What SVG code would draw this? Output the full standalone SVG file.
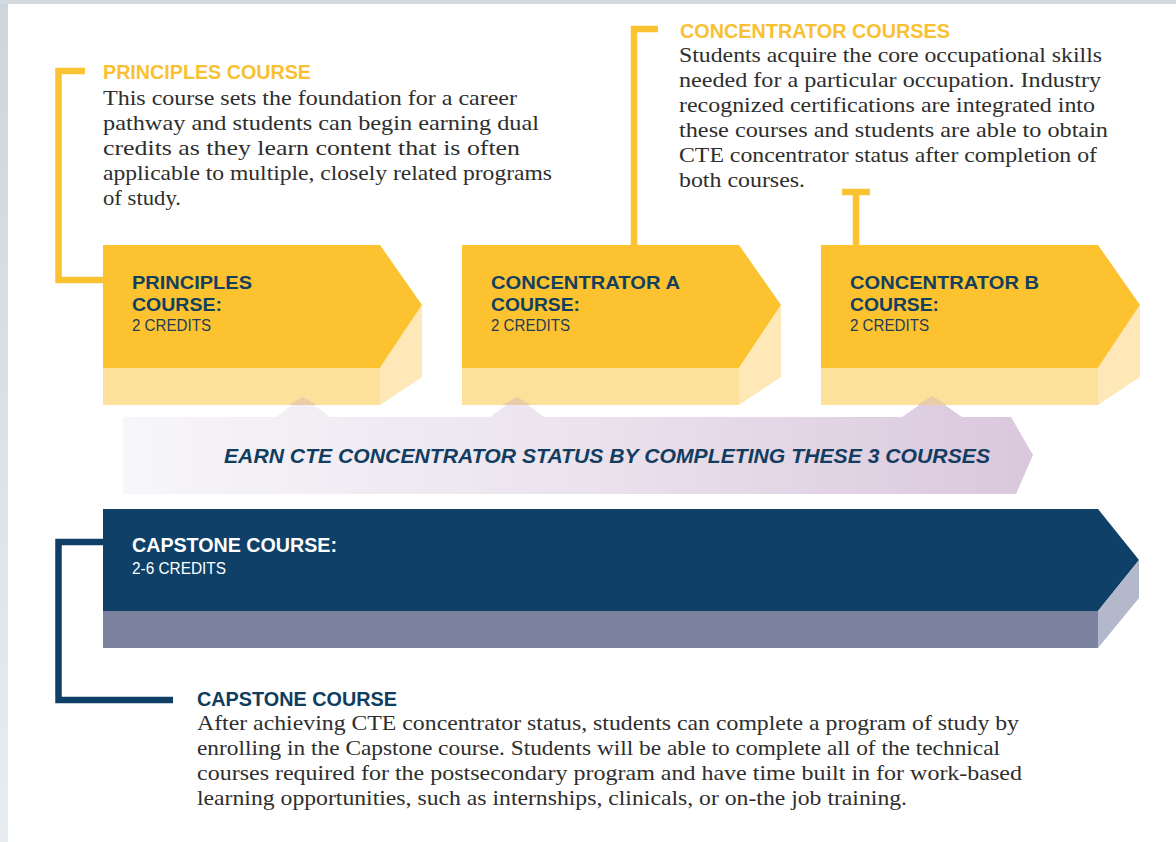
<svg xmlns="http://www.w3.org/2000/svg" width="1176" height="842" viewBox="0 0 1176 842">
  <defs>
    <linearGradient id="leftStrip" x1="0" y1="0" x2="0" y2="1">
      <stop offset="0" stop-color="#cdd6dd"/>
      <stop offset="1" stop-color="#e9edf0"/>
    </linearGradient>
    <linearGradient id="bandGrad" gradientUnits="userSpaceOnUse" x1="123" y1="0" x2="1033" y2="0">
      <stop offset="0" stop-color="#f7f6f9"/>
      <stop offset="0.5" stop-color="#ebe3ee"/>
      <stop offset="1" stop-color="#dac7dd"/>
    </linearGradient>
    <style>
      .yTop { fill: #fcc230; }
      .yFront { fill: #fde19b; }
      .ySide { fill: #fee8b7; }
      .nTop { fill: #0e4068; }
      .nFront { fill: #7b839f; }
      .nSide { fill: #b4b8cb; }
      .lbl { font-family: "Liberation Sans", Arial, sans-serif; font-weight: bold; font-size: 19px; fill: #133f5f; }
      .lblW { font-family: "Liberation Sans", Arial, sans-serif; font-weight: bold; font-size: 20px; fill: #ffffff; }
      .cred { font-family: "Liberation Sans", Arial, sans-serif; font-size: 16px; fill: #1e3d58; }
      .credW { font-family: "Liberation Sans", Arial, sans-serif; font-size: 16px; fill: #ffffff; }
      .headY { font-family: "Liberation Sans", Arial, sans-serif; font-weight: bold; font-size: 19.5px; fill: #f9c132; }
      .headN { font-family: "Liberation Sans", Arial, sans-serif; font-weight: bold; font-size: 19.5px; fill: #0f3d5e; }
      .body { font-family: "Liberation Serif", "Times New Roman", serif; font-size: 21px; fill: #2e2e2e; }
      .bandTxt { font-family: "Liberation Sans", Arial, sans-serif; font-weight: bold; font-style: italic; font-size: 21px; fill: #123d60; }
      .brY { fill: none; stroke: #fbc231; stroke-width: 6.5; stroke-linejoin: miter; stroke-linecap: butt; }
      .brN { fill: none; stroke: #0f3f66; stroke-width: 6.5; stroke-linejoin: miter; stroke-linecap: butt; }
    </style>
  </defs>

  <!-- page background -->
  <rect x="0" y="0" width="1176" height="842" fill="#ffffff"/>
  <rect x="0" y="0" width="8" height="842" fill="url(#leftStrip)"/>
  <rect x="0" y="0" width="1176" height="4" fill="#d3dbe1"/>

  <!-- band (behind arrows) -->
  <g id="band">
    <path fill="url(#bandGrad)" d="M123,417 H276 L303,397 L330,417 H490 L517,397 L544,417 H902 L932,396 L962,417 H1011 L1033,455 L1016,494 H123 Z"/>
  </g>

  <!-- connectors / brackets -->
  <g id="connectors">
    <path class="brY" d="M85,71 H58.5 V280 H103"/>
    <path class="brY" d="M658,29 H634 V245"/>
    <path class="brY" d="M842,192 H870 M856,192 V245"/>
    <path class="brN" d="M103,542 H58.5 V700 H173"/>
  </g>

  <g id="node-principles">
    <path class="yTop" d="M103,245 H380 L422,305 L380,368 H103 Z"/>
    <path class="yFront" d="M103,368 H380 V405 H103 Z"/>
    <path class="ySide" d="M380,368 L422,305 V377 L380,405 Z"/>
    <text class="lbl" x="132" y="289" textLength="120" lengthAdjust="spacingAndGlyphs">PRINCIPLES</text>
    <text class="lbl" x="132" y="311" textLength="90" lengthAdjust="spacingAndGlyphs">COURSE:</text>
    <text class="cred" x="132" y="331" textLength="79" lengthAdjust="spacingAndGlyphs">2 CREDITS</text>
  </g>

  <g id="node-concentrator-a">
    <path class="yTop" d="M462,245 H739 L781,305 L739,368 H462 Z"/>
    <path class="yFront" d="M462,368 H739 V405 H462 Z"/>
    <path class="ySide" d="M739,368 L781,305 V377 L739,405 Z"/>
    <text class="lbl" x="491" y="289" textLength="189" lengthAdjust="spacingAndGlyphs">CONCENTRATOR A</text>
    <text class="lbl" x="491" y="311" textLength="89" lengthAdjust="spacingAndGlyphs">COURSE:</text>
    <text class="cred" x="491" y="331" textLength="79" lengthAdjust="spacingAndGlyphs">2 CREDITS</text>
  </g>

  <g id="node-concentrator-b">
    <path class="yTop" d="M821,245 H1098 L1140,305 L1098,368 H821 Z"/>
    <path class="yFront" d="M821,368 H1098 V405 H821 Z"/>
    <path class="ySide" d="M1098,368 L1140,305 V377 L1098,405 Z"/>
    <text class="lbl" x="850" y="289" textLength="189" lengthAdjust="spacingAndGlyphs">CONCENTRATOR B</text>
    <text class="lbl" x="850" y="311" textLength="89" lengthAdjust="spacingAndGlyphs">COURSE:</text>
    <text class="cred" x="850" y="331" textLength="79" lengthAdjust="spacingAndGlyphs">2 CREDITS</text>
  </g>

  <!-- band pointer tips over arrow fronts + band label -->
  <g id="band-label">
    <path fill="#b89fc4" fill-opacity="0.3" d="M289,405 L303,397 L317,405 Z M503,405 L517,397 L531,405 Z M917,405 L932,396 L947,405 Z"/>
    <text class="bandTxt" x="224" y="463" textLength="766" lengthAdjust="spacingAndGlyphs">EARN CTE CONCENTRATOR STATUS BY COMPLETING THESE 3 COURSES</text>
  </g>

  <g id="node-capstone">
    <path class="nTop" d="M103,509 H1098 L1139,560 L1098,611 H103 Z"/>
    <path class="nFront" d="M103,611 H1098 V648 H103 Z"/>
    <path class="nSide" d="M1098,611 L1139,560 V598 L1098,648 Z"/>
    <text class="lblW" x="132" y="552" textLength="205" lengthAdjust="spacingAndGlyphs">CAPSTONE COURSE:</text>
    <text class="credW" x="132" y="574" textLength="94" lengthAdjust="spacingAndGlyphs">2-6 CREDITS</text>
  </g>

  <g id="note-principles">
    <text class="headY" x="103" y="79" textLength="208" lengthAdjust="spacingAndGlyphs">PRINCIPLES COURSE</text>
    <text class="body" x="103" y="105" textLength="414" lengthAdjust="spacingAndGlyphs">This course sets the foundation for a career</text>
    <text class="body" x="103" y="130" textLength="436" lengthAdjust="spacingAndGlyphs">pathway and students can begin earning dual</text>
    <text class="body" x="103" y="155" textLength="417" lengthAdjust="spacingAndGlyphs">credits as they learn content that is often</text>
    <text class="body" x="103" y="180" textLength="449" lengthAdjust="spacingAndGlyphs">applicable to multiple, closely related programs</text>
    <text class="body" x="103" y="205" textLength="78" lengthAdjust="spacingAndGlyphs">of study.</text>
  </g>

  <g id="note-concentrator">
    <text class="headY" x="680" y="38" textLength="270" lengthAdjust="spacingAndGlyphs">CONCENTRATOR COURSES</text>
    <text class="body" x="679" y="62" textLength="423" lengthAdjust="spacingAndGlyphs">Students acquire the core occupational skills</text>
    <text class="body" x="679" y="87" textLength="422" lengthAdjust="spacingAndGlyphs">needed for a particular occupation. Industry</text>
    <text class="body" x="679" y="112" textLength="416" lengthAdjust="spacingAndGlyphs">recognized certifications are integrated into</text>
    <text class="body" x="679" y="137" textLength="429" lengthAdjust="spacingAndGlyphs">these courses and students are able to obtain</text>
    <text class="body" x="679" y="162" textLength="418" lengthAdjust="spacingAndGlyphs">CTE concentrator status after completion of</text>
    <text class="body" x="679" y="187" textLength="126" lengthAdjust="spacingAndGlyphs">both courses.</text>
  </g>

  <g id="note-capstone">
    <text class="headN" x="197" y="706" textLength="200" lengthAdjust="spacingAndGlyphs">CAPSTONE COURSE</text>
    <text class="body" x="197" y="730" textLength="822" lengthAdjust="spacingAndGlyphs">After achieving CTE concentrator status, students can complete a program of study by</text>
    <text class="body" x="197" y="755" textLength="803" lengthAdjust="spacingAndGlyphs">enrolling in the Capstone course. Students will be able to complete all of the technical</text>
    <text class="body" x="197" y="780" textLength="825" lengthAdjust="spacingAndGlyphs">courses required for the postsecondary program and have time built in for work-based</text>
    <text class="body" x="197" y="805" textLength="710" lengthAdjust="spacingAndGlyphs">learning opportunities, such as internships, clinicals, or on-the job training.</text>
  </g>
</svg>
